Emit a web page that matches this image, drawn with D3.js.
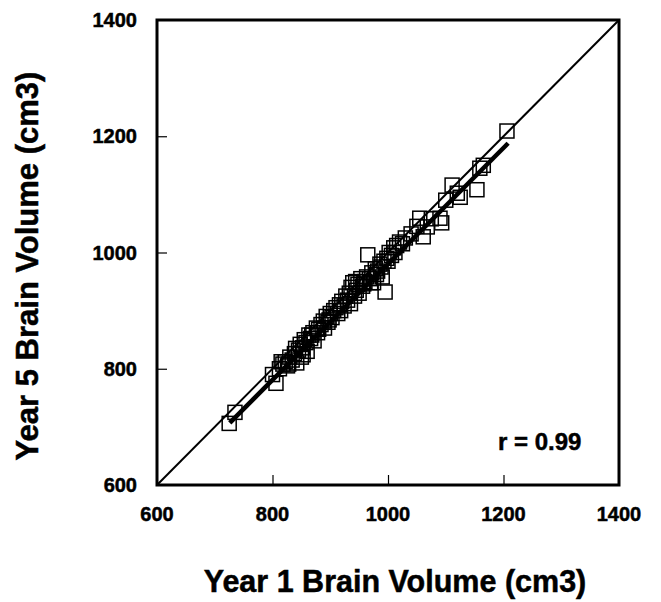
<!DOCTYPE html>
<html>
<head>
<meta charset="utf-8">
<script src="https://cdn.jsdelivr.net/npm/d3@7"></script>
<style>
	body { margin: 0; background: #fff; }
	text { font-family: "Liberation Sans", Arial, sans-serif; font-weight: bold; fill: #000; stroke: #000; stroke-width: 0.5px; }
</style>
</head>
<body>
<script>
// year 1 vs year 5 brain volumes (cm3)
const year1 = [725, 735, 800, 806, 812, 818, 822, 826, 830, 834, 838, 842, 845, 848, 850, 852, 855, 858, 860, 863,
	866, 870, 872, 876, 880, 884, 888, 890, 893, 896, 900, 903, 906, 910, 913, 916, 920, 924, 927, 930,
	933, 936, 939, 942, 945, 948, 950, 953, 956, 960, 963, 965, 968, 972, 975, 978, 982, 986, 990, 993,
	995, 998, 1002, 1006, 1010, 1015, 1020, 1025, 1030, 1040, 1050, 1055, 1061, 1068, 1075, 1090, 1093, 1100, 1111, 1120,
	1125, 1154, 1159, 1165, 1206,
	815, 828, 840, 853, 868, 878, 898, 918, 935, 944, 958, 970, 980, 988, 1000, 1012];
const year5 = [706, 725, 790, 775, 800, 808, 812, 805, 820, 815, 826, 810, 832, 842, 820, 836, 850, 845, 830, 858,
	852, 862, 848, 870, 868, 876, 882, 870, 890, 880, 895, 888, 900, 905, 895, 910, 916, 908, 925, 918,
	930, 940, 948, 925, 935, 945, 930, 955, 942, 950, 958, 996, 955, 965, 948, 972, 968, 980, 958, 985,
	932, 990, 1000, 995, 1008, 1012, 1018, 1015, 1025, 1032, 1045, 1059, 1027, 1044, 1058, 1059, 1051, 1090, 1116, 1102,
	1095, 1108, 1145, 1150, 1209,
	812, 808, 835, 824, 858, 862, 884, 900, 912, 950, 946, 948, 962, 975, 985, 1000];
const fitX = [726, 1208];
const fitY = [707, 1188];
const ticks = [600, 800, 1000, 1200, 1400];

const width = 661, height = 602;
const svg = d3.select("body").append("svg").attr("width", width).attr("height", height);

const x = d3.scaleLinear().domain([600, 1400]).range([157, 619]);
const y = d3.scaleLinear().domain([600, 1400]).range([485, 20]);

// inner ticks
svg.append("g")
	.attr("transform", "translate(0," + y(600) + ")")
	.call(d3.axisTop(x).tickValues(ticks.slice(1, -1)).tickSize(10).tickFormat(""))
	.call(g => g.select(".domain").remove())
	.selectAll("line").attr("stroke-width", 1.2);
svg.append("g")
	.attr("transform", "translate(" + x(600) + ",0)")
	.call(d3.axisRight(y).tickValues(ticks.slice(1, -1)).tickSize(10).tickFormat(""))
	.call(g => g.select(".domain").remove())
	.selectAll("line").attr("stroke-width", 1.2);

// tick labels
svg.selectAll(".xl").data(ticks).enter().append("text")
	.attr("x", d => x(d)).attr("y", 521)
	.attr("text-anchor", "middle").style("font-size", "20px")
	.text(d => d);
svg.selectAll(".yl").data(ticks).enter().append("text")
	.attr("x", 137).attr("y", d => y(d)).attr("dy", "0.36em")
	.attr("text-anchor", "end").style("font-size", "20px")
	.text(d => d);

// identity line
svg.append("line")
	.attr("x1", x(600)).attr("y1", y(600)).attr("x2", x(1400)).attr("y2", y(1400))
	.attr("stroke", "#000").attr("stroke-width", 2);

// points
svg.selectAll(".pt").data(year1).enter().append("rect")
	.attr("x", (d) => x(d) - 7)
	.attr("y", (d, i) => y(year5[i]) - 7)
	.attr("width", 14).attr("height", 14)
	.attr("fill", "none").attr("stroke", "#000").attr("stroke-width", 1.5);

// regression line
svg.append("line")
	.attr("x1", x(fitX[0])).attr("y1", y(fitY[0])).attr("x2", x(fitX[1])).attr("y2", y(fitY[1]))
	.attr("stroke", "#000").attr("stroke-width", 4.5);

// frame
svg.append("rect")
	.attr("x", x(600)).attr("y", y(1400))
	.attr("width", x(1400) - x(600)).attr("height", y(600) - y(1400))
	.attr("fill", "none").attr("stroke", "#000").attr("stroke-width", 3);

svg.append("text").attr("x", 498).attr("y", 450).style("font-size", "24px").text("r = 0.99");

svg.append("text")
	.attr("x", 395).attr("y", 592)
	.attr("text-anchor", "middle").style("font-size", "30.5px")
	.text("Year 1 Brain Volume (cm3)");
svg.append("text")
	.attr("transform", "translate(38,266) rotate(-90)")
	.attr("text-anchor", "middle").style("font-size", "31px")
	.text("Year 5 Brain Volume (cm3)");
</script>
</body>
</html>
